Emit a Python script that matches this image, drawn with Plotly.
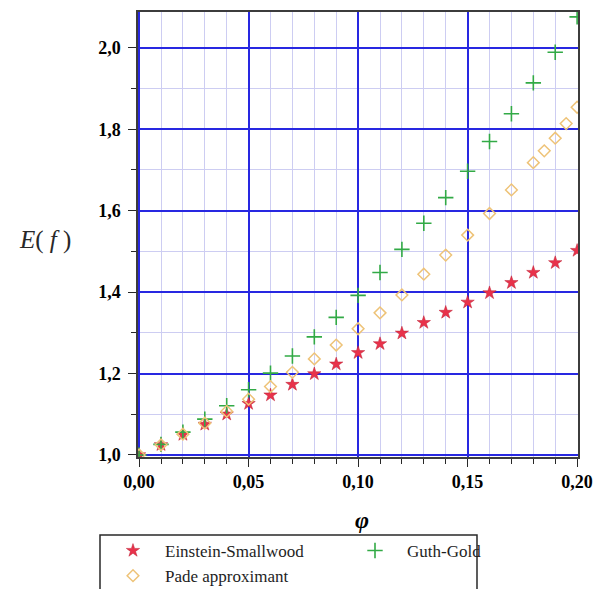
import plotly.graph_objects as go

# Data
phi_es = [0.00, 0.01, 0.02, 0.03, 0.04, 0.05, 0.06, 0.07, 0.08, 0.09, 0.10,
          0.11, 0.12, 0.13, 0.14, 0.15, 0.16, 0.17, 0.18, 0.19, 0.20]
E_es = [1.000, 1.025, 1.050, 1.075, 1.100, 1.126, 1.147, 1.173, 1.199, 1.223, 1.251,
        1.273, 1.299, 1.325, 1.350, 1.375, 1.398, 1.423, 1.448, 1.472, 1.502]

phi_gg = [0.00, 0.01, 0.02, 0.03, 0.04, 0.05, 0.06, 0.07, 0.08, 0.09, 0.10,
          0.11, 0.12, 0.13, 0.14, 0.15, 0.16, 0.17, 0.18, 0.19, 0.20]
E_gg = [1.000, 1.026, 1.056, 1.088, 1.121, 1.160, 1.201, 1.243, 1.290, 1.338, 1.392,
        1.448, 1.505, 1.569, 1.632, 1.697, 1.770, 1.838, 1.914, 1.989, 2.076]

phi_pade = [0.00, 0.01, 0.02, 0.03, 0.04, 0.05, 0.06, 0.07, 0.08, 0.09, 0.10,
            0.11, 0.12, 0.13, 0.14, 0.15, 0.16, 0.17, 0.18, 0.185, 0.19, 0.195, 0.20]
E_pade = [1.000, 1.025, 1.051, 1.078, 1.107, 1.137, 1.168, 1.203, 1.236, 1.270, 1.310,
          1.349, 1.393, 1.444, 1.491, 1.540, 1.593, 1.651, 1.718, 1.747, 1.778, 1.814, 1.854]

x_ticks = [0.00, 0.05, 0.10, 0.15, 0.20]
y_ticks = [1.0, 1.2, 1.4, 1.6, 1.8, 2.0]

SERIF = "Liberation Serif"
RED = "rgb(232,50,75)"
GREEN = "rgb(50,170,70)"
ORANGE = "rgb(238,195,120)"

fig = go.Figure()
fig.add_trace(go.Scatter(
    x=phi_es, y=E_es, mode="markers", name="Einstein-Smallwood",
    marker=dict(symbol="star", size=10, color=RED,
                line=dict(width=0.5, color="rgb(190,30,50)"))))
fig.add_trace(go.Scatter(
    x=phi_gg, y=E_gg, mode="markers", name="Guth-Gold",
    marker=dict(symbol="cross-thin-open", size=11, color=GREEN,
                line=dict(width=1.6, color=GREEN))))
fig.add_trace(go.Scatter(
    x=phi_pade, y=E_pade, mode="markers", name="Pade approximant",
    marker=dict(symbol="diamond-open", size=9, color=ORANGE,
                line=dict(width=1.5, color=ORANGE))))

axis_common = dict(
    showline=True, mirror=True, linecolor="rgb(60,60,60)", linewidth=1.5,
    ticks="outside", ticklen=8, tickcolor="rgb(40,40,40)", tickwidth=1,
    showgrid=True, gridcolor="rgb(40,40,225)", gridwidth=2,
    zeroline=False,
    tickfont=dict(family=SERIF, size=18, color="black", weight="bold"),
)

fig.update_xaxes(
    range=[-0.0005, 0.2004], tickmode="array", tickvals=x_ticks, tickformat=".2f",
    ticklabelstandoff=0,
    minor=dict(dtick=0.01, showgrid=True, gridcolor="rgb(205,205,242)", gridwidth=1,
               ticks="outside", ticklen=5, tickcolor="rgb(40,40,40)"),
    **axis_common)
fig.update_yaxes(
    range=[0.995, 2.088], tickmode="array", tickvals=y_ticks, tickformat=".1f",
    ticklabelstandoff=4,
    minor=dict(dtick=0.1, showgrid=True, gridcolor="rgb(205,205,242)", gridwidth=1,
               ticks="outside", ticklen=5, tickcolor="rgb(40,40,40)"),
    **axis_common)

fig.add_annotation(text="<i>E</i>(&nbsp;<i>f</i>&nbsp;)", xref="paper", yref="paper",
                   x=-0.2114, y=0.4876, xanchor="center", yanchor="middle",
                   showarrow=False,
                   font=dict(family=SERIF, size=25, color="rgb(40,40,40)"))
fig.add_annotation(text="<b><i>φ</i></b>", xref="paper", yref="paper",
                   x=0.51, y=-0.141, xanchor="center", yanchor="middle",
                   showarrow=False,
                   font=dict(family=SERIF, size=24, color="black"))

# legend frame (extends past the bottom edge like in the reference)
fig.add_shape(type="rect", xref="paper", yref="paper",
              x0=-0.08636, x1=0.77045, y0=-0.17528, y1=-0.36,
              line=dict(color="rgb(40,40,40)", width=1.5), fillcolor="rgba(0,0,0,0)")

fig.update_layout(
    width=597, height=589,
    margin=dict(l=138, r=19, t=12, b=132, autoexpand=False),
    paper_bgcolor="white", plot_bgcolor="white",
    separators=", ",
    font=dict(family=SERIF, color="black"),
    legend=dict(orientation="h", x=-0.0841, y=-0.1708, xanchor="left", yanchor="top",
                entrywidth=173, entrywidthmode="pixels", itemwidth=54,
                borderwidth=0, bgcolor="rgba(0,0,0,0)",
                font=dict(family=SERIF, size=17, color="rgb(30,30,30)"),
                tracegroupgap=0, traceorder="normal"),
    showlegend=True,
)

fig.write_html("out.html")
